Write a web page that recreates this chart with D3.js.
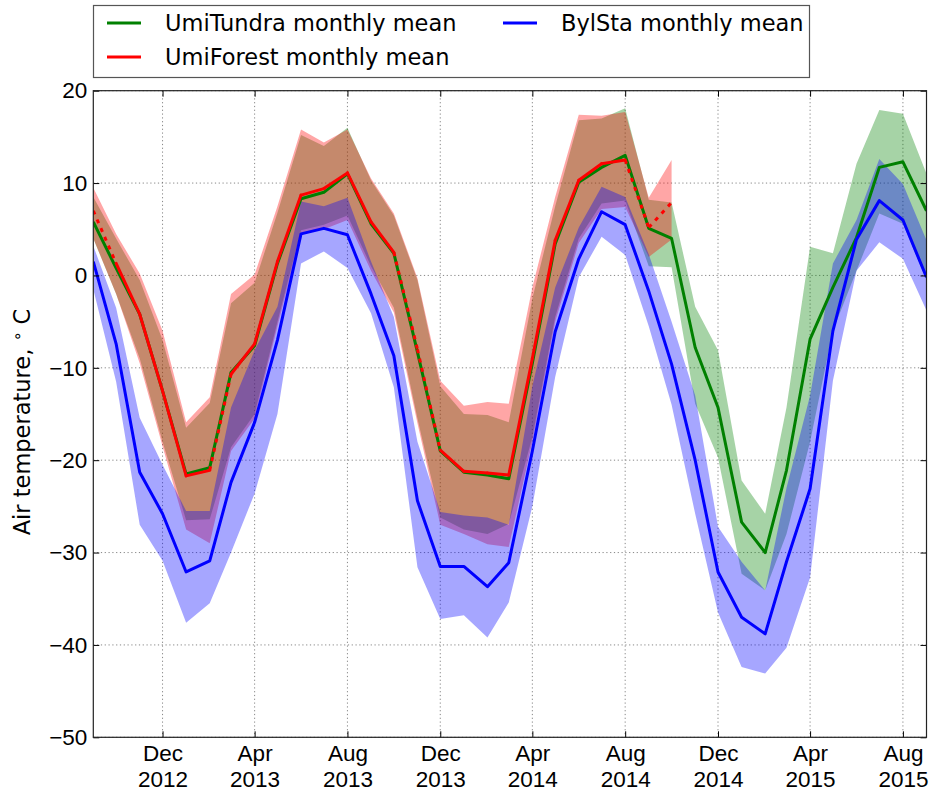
<!DOCTYPE html>
<html>
<head>
<meta charset="utf-8">
<script src="https://cdn.jsdelivr.net/npm/d3@7"></script>
<style>
  body { margin: 0; background: #fff; }
  svg { display: block; font-family: "DejaVu Sans", sans-serif; }
</style>
</head>
<body>
<div id="chart"></div>
<script>
// monthly points, first of each month
const months = [
  "2012-09","2012-10","2012-11","2012-12","2013-01","2013-02","2013-03","2013-04","2013-05","2013-06","2013-07","2013-08",
  "2013-09","2013-10","2013-11","2013-12","2014-01","2014-02","2014-03","2014-04","2014-05","2014-06","2014-07","2014-08",
  "2014-09","2014-10","2014-11","2014-12","2015-01","2015-02","2015-03","2015-04","2015-05","2015-06","2015-07","2015-08","2015-09"
];

// UmiTundra (green)
const tundraMean  = [5.8, 0.8, -4.2, -12.5, -21.5, -20.8, -10.5, -7.6, 1.3, 8.3, 9.0, 11.0,
                     5.6, 2.4, -8.3, -19.0, -21.3, -21.6, -22.0, -9.5, 3.4, 10.1, 11.7, 13.0,
                     5.1, 4.0, -7.8, -14.3, -26.7, -30.0, -21.1, -6.9, -1.3, 4.1, 11.7, 12.3, 7.0];
const tundraUpper = [8.5, 4.0, -0.5, -7.0, -16.5, -13.8, -3.0, -0.8, 6.8, 15.2, 14.0, 16.0,
                     10.3, 6.5, -0.5, -12.0, -15.0, -15.1, -15.9, -2.5, 7.5, 16.8, 17.0, 18.1,
                     8.2, 7.9, -3.4, -8.1, -22.2, -25.8, -14.3, 3.1, 2.4, 12.1, 17.9, 17.5, 11.0];
const tundraLower = [4.0, -2.0, -9.0, -18.0, -26.5, -26.4, -18.6, -15.0, -5.0, 4.9, 5.5, 6.5,
                     1.0, -3.5, -15.5, -26.2, -27.5, -28.0, -26.9, -17.5, -4.5, 4.0, 7.8, 8.1,
                     1.0, 0.9, -13.9, -19.7, -32.3, -34.1, -28.0, -18.0, -6.0, 0.5, 6.7, 5.6, -0.5];

// UmiForest (red), ends Oct 2014
const forestMean  = [7.0, 1.3, -4.2, -12.5, -21.7, -21.1, -10.7, -7.4, 1.5, 8.7, 9.4, 11.1,
                     5.8, 2.5, -8.0, -18.9, -21.2, -21.4, -21.6, -9.0, 3.8, 10.3, 12.1, 12.5,
                     5.2, 7.9];
const forestUpper = [9.5, 4.5, 0.2, -6.0, -15.9, -13.2, -2.0, 0.1, 7.5, 15.8, 14.4, 15.8,
                     10.5, 6.7, -0.3, -11.4, -14.1, -13.7, -13.9, -1.3, 8.5, 17.4, 17.3, 17.7,
                     8.4, 12.5];
const forestLower = [4.0, -2.0, -9.5, -18.5, -27.5, -29.0, -19.0, -15.5, -5.5, 4.5, 5.0, 6.0,
                     0.5, -4.0, -16.0, -27.0, -28.0, -29.1, -29.4, -18.0, -5.0, 3.5, 7.2, 7.4,
                     2.0, 3.9];
// segments (by start month) drawn dotted
const forestDotted = ["2012-09", "2013-02", "2013-10", "2013-11", "2014-08", "2014-09"];

// BylSta (blue)
const bylMean  = [1.5, -7.4, -21.3, -25.8, -32.1, -30.9, -22.4, -15.9, -7.0, 4.5, 5.1, 4.4,
                  -2.0, -8.7, -24.4, -31.5, -31.5, -33.7, -31.1, -19.0, -6.1, 1.8, 6.9, 5.5,
                  -1.7, -9.6, -20.0, -32.1, -37.0, -38.8, -31.0, -23.1, -6.0, 3.9, 8.1, 6.0, -0.2];
const bylUpper = [3.2, -3.5, -15.4, -20.5, -25.5, -25.5, -14.3, -8.1, -3.4, 8.0, 7.5, 8.4,
                  1.5, -4.5, -18.0, -25.6, -26.0, -26.2, -27.0, -12.0, -1.3, 5.2, 9.6, 8.5,
                  2.3, -5.0, -13.0, -27.2, -31.0, -34.1, -23.0, -13.0, 1.3, 6.0, 12.6, 9.9, 3.8];
const bylLower = [-1.5, -11.5, -27.0, -30.9, -37.6, -35.5, -30.0, -23.6, -15.0, 1.3, 2.6, 0.8,
                  -4.1, -12.1, -31.6, -37.2, -36.8, -39.2, -35.4, -25.0, -11.0, -0.2, 4.2, 2.2,
                  -5.5, -14.0, -25.8, -36.5, -42.4, -43.1, -40.3, -32.7, -11.4, 0.5, 3.6, 1.8, -3.8];

const tickMonths = ["2012-12","2013-04","2013-08","2013-12","2014-04","2014-08","2014-12","2015-04","2015-08"];
const yTicks = [-50, -40, -30, -20, -10, 0, 10, 20];

const width = 935, height = 792;
const margins = {top: 90.7, right: 8.5, bottom: 54.7, left: 93.3};
const fontSize = "22.5px";
const parseMonth = d3.utcParse("%Y-%m");

const svg = d3.select("#chart")
  .append("svg")
    .attr("width", width)
    .attr("height", height);

const x = d3.scaleUtc()
  .domain([parseMonth(months[0]), parseMonth(months[months.length - 1])])
  .range([margins.left, width - margins.right]);

const y = d3.scaleLinear()
  .domain([-50, 20])
  .range([height - margins.bottom, margins.top]);

const rowsOf = (mean, upper, lower) => mean.map((v, i) => ({
  key: months[i], date: parseMonth(months[i]), mean: v, hi: upper[i], lo: lower[i]
}));
const tundra = rowsOf(tundraMean, tundraUpper, tundraLower);
const forest = rowsOf(forestMean, forestUpper, forestLower);
const byl = rowsOf(bylMean, bylUpper, bylLower);

svg.append("clipPath").attr("id", "plot-clip")
  .append("rect")
    .attr("x", margins.left).attr("y", margins.top)
    .attr("width", width - margins.left - margins.right)
    .attr("height", height - margins.top - margins.bottom);

// dotted grid
const grid = svg.append("g").attr("stroke", "#444").attr("stroke-width", 0.8)
  .attr("stroke-dasharray", "1.2,2.6").attr("opacity", 0.8);
grid.selectAll(".gx").data(tickMonths).join("line")
  .attr("x1", d => x(parseMonth(d))).attr("x2", d => x(parseMonth(d)))
  .attr("y1", margins.top).attr("y2", height - margins.bottom);
grid.selectAll(".gy").data(yTicks).join("line")
  .attr("y1", d => y(d)).attr("y2", d => y(d))
  .attr("x1", margins.left).attr("x2", width - margins.right);

const plot = svg.append("g").attr("clip-path", "url(#plot-clip)");

const area = d3.area()
  .x(d => x(d.date))
  .y0(d => y(d.lo))
  .y1(d => y(d.hi));

const line = d3.line()
  .x(d => x(d.date))
  .y(d => y(d.mean));

// bands: green, then red, then blue on top
plot.append("path").datum(tundra).attr("d", area).attr("fill", "green").attr("fill-opacity", 0.35);
plot.append("path").datum(forest).attr("d", area).attr("fill", "red").attr("fill-opacity", 0.35);
plot.append("path").datum(byl).attr("d", area).attr("fill", "blue").attr("fill-opacity", 0.35);

plot.append("path").datum(tundra).attr("d", line)
  .attr("fill", "none").attr("stroke", "green").attr("stroke-width", 3)
  .attr("stroke-linejoin", "round");

// red line: solid where complete, dotted across gaps
const forestSegs = d3.pairs(forest).map(([a, b]) => ({pts: [a, b], dotted: forestDotted.includes(a.key)}));
plot.selectAll(".forest-seg")
  .data(forestSegs)
  .join("path")
    .attr("d", d => line(d.pts))
    .attr("fill", "none")
    .attr("stroke", "red")
    .attr("stroke-width", 3)
    .attr("stroke-linecap", d => d.dotted ? "butt" : "round")
    .attr("stroke-dasharray", d => d.dotted ? "4,5.5" : null);

plot.append("path").datum(byl).attr("d", line)
  .attr("fill", "none").attr("stroke", "blue").attr("stroke-width", 3)
  .attr("stroke-linejoin", "round");

// axes, ticks pointing inwards
const yAxis = d3.axisLeft(y).tickValues(yTicks).tickSize(-6).tickSizeOuter(0).tickPadding(6);
svg.append("g")
    .attr("transform", `translate(${margins.left}, 0)`)
  .call(yAxis)
  .call(g => g.select(".domain").remove())
  .call(g => g.selectAll("text").style("font-size", fontSize).attr("fill", "#000"));

svg.append("g")
    .attr("transform", `translate(${width - margins.right}, 0)`)
  .call(d3.axisRight(y).tickValues(yTicks).tickSize(-6).tickSizeOuter(0).tickFormat(""))
  .call(g => g.select(".domain").remove());

const xAxis = d3.axisBottom(x).tickValues(tickMonths.map(parseMonth)).tickSize(-6).tickSizeOuter(0).tickPadding(8);
const xGroup = svg.append("g")
    .attr("transform", `translate(0, ${height - margins.bottom})`)
  .call(xAxis)
  .call(g => g.select(".domain").remove());

xGroup.selectAll("text")
  .style("font-size", fontSize)
  .attr("fill", "#000")
  .text(null)
  .call(t => t.append("tspan").attr("x", 0).text(d => d3.utcFormat("%b")(d)))
  .call(t => t.append("tspan").attr("x", 0).attr("dy", "1.14em").text(d => d3.utcFormat("%Y")(d)));

svg.append("g")
    .attr("transform", `translate(0, ${margins.top})`)
  .call(d3.axisTop(x).tickValues(tickMonths.map(parseMonth)).tickSize(-6).tickSizeOuter(0).tickFormat(""))
  .call(g => g.select(".domain").remove());

svg.selectAll(".tick line").attr("stroke", "#000");

// frame
svg.append("rect")
  .attr("x", margins.left).attr("y", margins.top)
  .attr("width", width - margins.left - margins.right)
  .attr("height", height - margins.top - margins.bottom)
  .attr("fill", "none").attr("stroke", "#222").attr("stroke-width", 1.2);

// y label
const ylab = svg.append("text")
  .attr("transform", `translate(30, ${(margins.top + height - margins.bottom) / 2 + 8}) rotate(-90)`)
  .attr("text-anchor", "middle")
  .style("font-size", fontSize)
  .attr("fill", "#000");
ylab.append("tspan").text("Air temperature, ");
ylab.append("tspan").attr("dy", "-0.45em").style("font-size", "16px").text("\u2218");
ylab.append("tspan").attr("dy", "0.31em").text(" C");

// legend
const legendItems = [
  {label: "UmiTundra monthly mean", color: "green", x: 107, y: 23},
  {label: "UmiForest monthly mean", color: "red", x: 107, y: 57},
  {label: "BylSta monthly mean", color: "blue", x: 503, y: 23}
];
svg.append("rect")
  .attr("x", 93.5).attr("y", 5.5).attr("width", 716).attr("height", 72)
  .attr("fill", "#fff").attr("stroke", "#555").attr("stroke-width", 1.2);
const legend = svg.append("g").selectAll("g").data(legendItems).join("g")
  .attr("transform", d => `translate(${d.x}, ${d.y})`);
legend.append("line")
  .attr("x1", 0).attr("x2", 34).attr("y1", 0).attr("y2", 0)
  .attr("stroke", d => d.color).attr("stroke-width", 3);
legend.append("text")
  .attr("x", 58).attr("y", 0).attr("dy", "0.36em")
  .style("font-size", fontSize)
  .attr("fill", "#000")
  .text(d => d.label);
</script>
</body>
</html>
